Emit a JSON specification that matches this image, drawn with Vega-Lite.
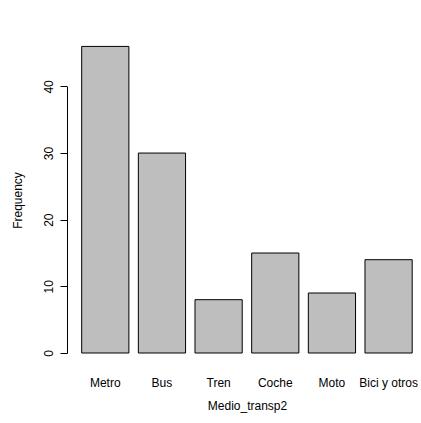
{
  "$schema": "https://vega.github.io/schema/vega-lite/v6.json",
  "autosize": "none",
  "width": 354,
  "height": 331,
  "padding": {"left": 67, "top": 34, "right": 0, "bottom": 58},
  "background": "white",
  "config": {
    "view": {"stroke": null},
    "font": "Liberation Sans",
    "axis": {"labelFont": "Liberation Sans", "titleFont": "Liberation Sans", "labelColor": "black", "titleColor": "black", "labelFontSize": 12, "titleFontSize": 12, "titleFontWeight": "normal", "grid": false}
  },
  "data": {
    "values": [
      {"Medio_transp2": "Metro", "Frequency": 46},
      {"Medio_transp2": "Bus", "Frequency": 30},
      {"Medio_transp2": "Tren", "Frequency": 8},
      {"Medio_transp2": "Coche", "Frequency": 15},
      {"Medio_transp2": "Moto", "Frequency": 9},
      {"Medio_transp2": "Bici y otros", "Frequency": 14}
    ]
  },
  "mark": {"type": "bar", "fill": "#BEBEBE", "stroke": "black", "strokeWidth": 1, "clip": false},
  "encoding": {
    "x": {
      "field": "Medio_transp2",
      "type": "nominal",
      "sort": null,
      "scale": {"paddingInner": 0.1667, "paddingOuter": 0.2072, "align": 0.625},
      "axis": {"domain": false, "ticks": false, "labelAngle": 0, "labelPadding": 12, "title": "Medio_transp2", "titlePadding": 12, "titleX": 180}
    },
    "y": {
      "field": "Frequency",
      "type": "quantitative",
      "scale": {"domain": [0, 40], "range": [319, 52.4], "nice": false, "zero": false},
      "axis": {"values": [0, 10, 20, 30, 40], "tickSize": 7, "tickColor": "black", "domainColor": "black", "labelAngle": -90, "labelAlign": "center", "labelBaseline": "bottom", "labelPadding": 5, "title": "Frequency", "titlePadding": 18, "titleY": 166}
    }
  }
}
